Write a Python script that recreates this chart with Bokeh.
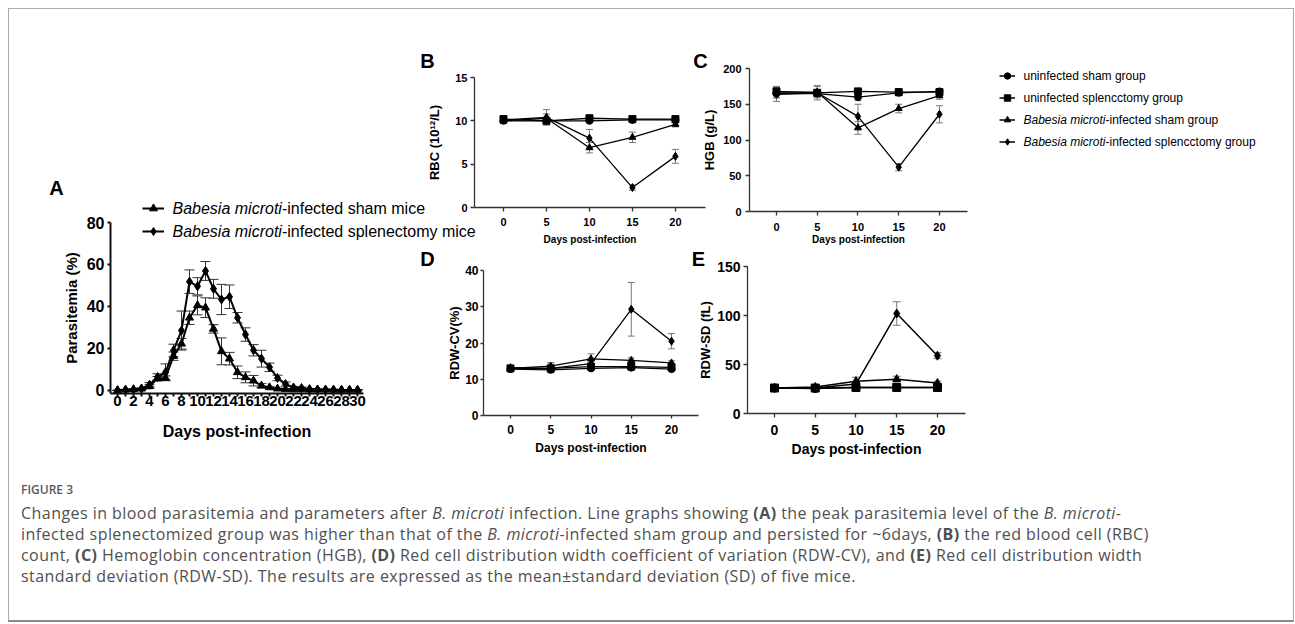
import numpy as np
from bokeh.plotting import figure
from bokeh.models import (Range1d, FixedTicker, ColumnDataSource, Whisker, TeeHead,
                          Legend, LegendItem, Label, Div)
from bokeh.layouts import row, column
from bokeh.embed import file_html
from bokeh.resources import INLINE

FONT = "Liberation Sans"

# ---------------- data: panel A (parasitemia, %) ----------------
days_a = list(range(31))
sham_a = [0, 0.3, 0.5, 0.8, 1.9, 5.6, 5.9, 16.3, 22.2, 34.6, 40.5, 39.4, 29.3, 18.6, 15.1, 8.6,
          6.2, 4.6, 2.2, 1.4, 0.8, 0.5, 0.4, 0.4, 0.3, 0.3, 0.3, 0.2, 0.2, 0.2, 0.2]
sham_a_sd = [0, 0.2, 0.2, 0.3, 0.8, 1.0, 1.0, 2.0, 2.5, 3.2, 4.5, 4.7, 2.0, 6.4, 3.0, 3.0,
             2.6, 2.5, 1.0, 0.5, 0.3, 0.3, 0.2, 0.2, 0.2, 0.2, 0.2, 0.2, 0.1, 0.1, 0.1]
splen_a = [0, 0.2, 0.3, 0.8, 2.7, 6.4, 8.6, 19.0, 28.5, 51.8, 49.6, 56.9, 48.4, 43.3, 44.6, 34.6,
           26.6, 19.1, 15.1, 11.0, 5.9, 3.0, 1.4, 1.1, 0.6, 0.4, 0.3, 0.3, 0.2, 0.2, 0.2]
splen_a_sd = [0, 0.2, 0.2, 0.3, 1.0, 1.5, 4.0, 3.0, 9.3, 5.6, 4.1, 4.5, 4.5, 7.2, 5.6, 2.5,
              3.2, 2.7, 4.0, 2.0, 1.3, 1.0, 0.5, 0.5, 0.3, 0.2, 0.2, 0.2, 0.2, 0.2, 0.2]
legend_a_italic = ["Babesia microti", "Babesia microti"]
legend_a_rest = ["-infected sham mice", "-infected splenectomy mice"]
legend_a_markers = ["triangle", "diamond"]

# ---------------- data: panels B-E (4 groups) ----------------
days = [0, 5, 10, 15, 20]
group_italic = ["", "", "Babesia microti", "Babesia microti"]
group_rest = ["uninfected sham group", "uninfected splencctomy group",
              "-infected sham group", "-infected splencctomy group"]
group_markers = ["circle", "square", "triangle", "diamond"]

rbc_uninf_sham = [10.0, 10.0, 10.0, 10.1, 10.1]
rbc_uninf_splen = [10.2, 10.0, 10.3, 10.2, 10.2]
rbc_inf_sham = [10.0, 10.3, 6.9, 8.1, 9.6]
rbc_inf_splen = [10.1, 10.4, 8.0, 2.3, 5.9]
rbc_sd = [[0.3, 0.2, 0.2, 0.2, 0.2], [0.3, 0.2, 0.3, 0.3, 0.3],
          [0.3, 0.5, 0.6, 0.6, 0.3], [0.3, 0.9, 1.0, 0.3, 0.8]]

hgb_uninf_sham = [165, 165, 160, 166, 168]
hgb_uninf_splen = [168, 166, 168, 167, 167]
hgb_inf_sham = [167, 167, 117, 144, 162]
hgb_inf_splen = [164, 166, 133, 62, 136]
hgb_sd = [[6, 5, 5, 4, 4], [5, 4, 4, 4, 5], [8, 8, 9, 6, 5], [10, 10, 17, 5, 12]]

rdwcv_uninf_sham = [12.8, 12.6, 13.0, 13.2, 12.8]
rdwcv_uninf_splen = [13.0, 13.0, 13.5, 13.5, 13.3]
rdwcv_inf_sham = [13.0, 13.6, 15.6, 15.2, 14.5]
rdwcv_inf_splen = [13.2, 13.0, 14.3, 29.3, 20.5]
rdwcv_sd = [[0.4, 0.4, 0.4, 0.4, 0.4], [0.4, 0.5, 0.5, 0.5, 0.5],
            [0.5, 1.0, 1.4, 0.7, 0.6], [0.5, 1.2, 1.5, 7.4, 2.1]]

rdwsd_uninf_sham = [26, 25.5, 26.5, 26.5, 26.5]
rdwsd_uninf_splen = [26, 26, 26.5, 26.5, 26.5]
rdwsd_inf_sham = [26, 27, 33, 35, 31]
rdwsd_inf_splen = [26, 26, 30, 102, 59]
rdwsd_sd = [[1, 1, 1, 1, 1], [1, 1, 1, 1, 1], [1, 1.5, 4, 3, 2], [1, 1.5, 2, 12, 3]]

ROW_W, ROW_H = 1284, 453


def make_fig(w, h, xr, yr, left, right, top, bottom, **kw):
    p = figure(width=w, height=h, x_range=Range1d(*xr), y_range=Range1d(*yr),
               output_backend="svg", toolbar_location=None, title=None,
               min_border_left=left, min_border_right=right,
               min_border_top=top, min_border_bottom=bottom, frame_align=False, **kw)
    p.grid.visible = False
    p.outline_line_color = None
    p.background_fill_alpha = 0
    p.border_fill_alpha = 0
    return p


def style_axes(p, xticks, yticks, tick_fs, xlab, xlab_fs, ylab, ylab_fs,
               x_std, x_lab_std, y_std, y_lab_std, color="#333333", lw=1.3,
               tick_out=4, x_minor=None, ytick_fs=None):
    for ax in (p.xaxis[0], p.yaxis[0]):
        ax.axis_line_color = color
        ax.axis_line_width = lw
        ax.major_tick_line_color = color
        ax.major_tick_line_width = lw
        ax.major_tick_out = tick_out
        ax.major_tick_in = 0
        ax.minor_tick_line_color = None
        ax.major_label_text_font = FONT
        ax.major_label_text_font_style = "bold"
        ax.major_label_text_font_size = f"{tick_fs}px"
        ax.major_label_text_color = "black"
        ax.axis_label_text_font = FONT
        ax.axis_label_text_font_style = "bold"
        ax.axis_label_text_color = "black"
    if ytick_fs:
        p.yaxis.major_label_text_font_size = f"{ytick_fs}px"
    p.xaxis.ticker = FixedTicker(ticks=xticks, minor_ticks=x_minor or [])
    p.yaxis.ticker = FixedTicker(ticks=yticks)
    if x_minor:
        p.xaxis.minor_tick_line_color = color
        p.xaxis.minor_tick_line_width = lw
        p.xaxis.minor_tick_out = tick_out
        p.xaxis.minor_tick_in = 0
    p.xaxis.axis_label = xlab
    p.xaxis.axis_label_text_font_size = f"{xlab_fs}px"
    p.yaxis.axis_label = ylab
    p.yaxis.axis_label_text_font_size = f"{ylab_fs}px"
    p.xaxis.major_label_standoff = x_std
    p.xaxis.axis_label_standoff = x_lab_std
    p.yaxis.major_label_standoff = y_std
    p.yaxis.axis_label_standoff = y_lab_std


def draw_series(p, x, y, sd, marker, size, lw, err_color, cap):
    src = ColumnDataSource(dict(x=x, y=y,
                                upper=[a + b for a, b in zip(y, sd)],
                                lower=[a - b for a, b in zip(y, sd)]))
    p.add_layout(Whisker(source=src, base="x", upper="upper", lower="lower",
                         line_color=err_color, line_width=1,
                         upper_head=TeeHead(size=cap, line_color=err_color, line_width=1),
                         lower_head=TeeHead(size=cap, line_color=err_color, line_width=1)))
    p.line("x", "y", source=src, line_color="black", line_width=lw)
    p.scatter("x", "y", source=src, marker=marker, size=size,
              fill_color="black", line_color="black")


# ---------------- overlay canvas for panel letters and legends ----------------
ov = figure(width=ROW_W, height=ROW_H, x_range=Range1d(0, ROW_W), y_range=Range1d(ROW_H, 0),
            output_backend="svg", toolbar_location=None, title=None,
            x_axis_location=None, y_axis_location=None, frame_align=False,
            min_border_left=0, min_border_right=0, min_border_top=0, min_border_bottom=0,
            margin=(0, -ROW_W, 0, 0))
ov.grid.visible = False
ov.outline_line_color = None
ov.background_fill_alpha = 0
ov.border_fill_alpha = 0


def ov_text(txt, x, y, fs, style="normal", align="left"):
    ov.add_layout(Label(x=x, y=y, text=txt, text_font=FONT, text_font_style=style,
                        text_font_size=f"{fs}px", text_align=align,
                        text_baseline="middle", text_color="black"))


def ov_legend_entries(italics, rests, x, ys, fs, italic_w):
    for it, rest, ysx in zip(italics, rests, ys):
        xx = x
        if it:
            ov_text(it, x, ysx, fs, "italic")
            xx = x + italic_w
        ov_text(rest, xx, ysx, fs)


def ov_swatches(markers, lw):
    # legend-only renderers: a single undefined (NaN) point, so nothing is drawn in the plot
    items = []
    for mk in markers:
        src = ColumnDataSource(dict(x=np.array([np.nan]), y=np.array([np.nan])))
        rl = ov.line("x", "y", source=src, line_color="black", line_width=lw)
        rs = ov.scatter("x", "y", source=src, marker=mk, size=8,
                        fill_color="black", line_color="black")
        items.append(LegendItem(label=" ", renderers=[rl, rs]))
    return items


# panel letters
for t, x, y in [("A", 47, 178), ("B", 418, 51), ("C", 691, 51), ("D", 418, 249), ("E", 689, 249)]:
    ov_text(t, x, y, 20, "bold", "center")

# legend of panel A
ov.add_layout(Legend(items=ov_swatches(legend_a_markers, 2), location=(133, 221),
                     padding=0, spacing=3, glyph_width=22, glyph_height=20, label_height=20,
                     label_standoff=0, label_text_font_size="6px",
                     border_line_color=None, background_fill_alpha=0))
ov_legend_entries(legend_a_italic, legend_a_rest, 163, [199, 222], 16, 109.4)

# shared legend of panels B-E
ov.add_layout(Legend(items=ov_swatches(group_markers, 1.5), location=(990, 311),
                     padding=0, spacing=3, glyph_width=16, glyph_height=19, label_height=19,
                     label_standoff=0, label_text_font_size="6px",
                     border_line_color=None, background_fill_alpha=0))
ov_legend_entries(group_italic, group_rest, 1014, [66.5, 88.5, 110.5, 132.5], 12, 82.0)

# ---------------- panel A ----------------
pa = make_fig(476, 453, (-0.875, 30.75), (-1.5, 80), 101, 122, 213, 69,
              margin=(0, -67, 0, 0))
style_axes(pa, list(range(0, 31, 2)), [0, 20, 40, 60, 80], 15,
           "Days post-infection", 16, "Parasitemia (%)", 15,
           -1, 14, 3, 4, color="#111111", lw=2, tick_out=3,
           x_minor=list(range(1, 31, 2)), ytick_fs=16)
draw_series(pa, days_a, sham_a, sham_a_sd, "triangle", 8, 2, "#333333", 10)
draw_series(pa, days_a, splen_a, splen_a_sd, "diamond", 9, 2, "#333333", 10)

# ---------------- panel B ----------------
pb = make_fig(290, 238, (-3.37, 23.5), (0, 15), 56, 3, 68, 39)
style_axes(pb, days, [0, 5, 10, 15], 11, "Days post-infection", 10, "RBC (10¹²/L)", 13,
           6, 5, 3, 10)
for vals, sd, mk in zip([rbc_uninf_sham, rbc_uninf_splen, rbc_inf_sham, rbc_inf_splen],
                        rbc_sd, group_markers):
    draw_series(pb, days, vals, sd, mk, 7 if mk != "diamond" else 8, 1.3, "#777777", 7)

# ---------------- panel C ----------------
pc = make_fig(607, 238, (-3.31, 23.44), (0, 200), 63, 326, 59, 34)
style_axes(pc, days, [0, 50, 100, 150, 200], 11, "Days post-infection", 10, "HGB (g/L)", 13,
           7, 0, 4, 3)
for vals, sd, mk in zip([hgb_uninf_sham, hgb_uninf_splen, hgb_inf_sham, hgb_inf_splen],
                        hgb_sd, group_markers):
    draw_series(pc, days, vals, sd, mk, 7 if mk != "diamond" else 8, 1.3, "#777777", 7)

# ---------------- panel D ----------------
pd_ = make_fig(290, 215, (-3.35, 23.35), (0, 40), 65, 10, 23, 47)
style_axes(pd_, days, [0, 10, 20, 30, 40], 12, "Days post-infection", 12, "RDW-CV(%)", 13,
           6, 4, 2, 0, tick_out=3)
for vals, sd, mk in zip([rdwcv_uninf_sham, rdwcv_uninf_splen, rdwcv_inf_sham, rdwcv_inf_splen],
                        rdwcv_sd, group_markers):
    draw_series(pd_, days, vals, sd, mk, 7 if mk != "diamond" else 8, 1.3, "#777777", 7)

# ---------------- panel E ----------------
pe = make_fig(607, 215, (-3.31, 23.44), (0, 150), 61, 328, 19, 49)
style_axes(pe, days, [0, 50, 100, 150], 14, "Days post-infection", 14, "RDW-SD (fL)", 13,
           7, 3, 3, 1)
for vals, sd, mk in zip([rdwsd_uninf_sham, rdwsd_uninf_splen, rdwsd_inf_sham, rdwsd_inf_splen],
                        rdwsd_sd, group_markers):
    draw_series(pe, days, vals, sd, mk, 8 if mk != "diamond" else 9, 1.5, "#777777", 8)

# ---------------- caption ----------------
caption_lines = [
    "Changes in blood parasitemia and parameters after <i>B. microti</i> infection. Line graphs showing <b>(A)</b> the peak parasitemia level of the <i>B. microti</i>-",
    "infected splenectomized group was higher than that of the <i>B. microti</i>-infected sham group and persisted for ~6days, <b>(B)</b> the red blood cell (RBC)",
    "count, <b>(C)</b> Hemoglobin concentration (HGB), <b>(D)</b> Red cell distribution width coefficient of variation (RDW-CV), and <b>(E)</b> Red cell distribution width",
    "standard deviation (RDW-SD). The results are expressed as the mean±standard deviation (SD) of five mice.",
]
caption_html = (
    "<div style=\"font-family:'Open Sans',sans-serif;color:#505050;padding-left:7px;white-space:nowrap;\">"
    "<div style=\"font-size:12px;line-height:16px;margin-top:15px;color:#5a5a5a;font-weight:600;\">FIGURE 3</div>"
    "<div style=\"font-size:16px;line-height:21px;margin-top:5px;letter-spacing:0.45px;\">"
    + "<br>".join(caption_lines) + "</div></div>"
)
cap = Div(text=caption_html, width=ROW_W, height=158)

bd = column(pb, pd_, margin=(0, -22, 0, 0))
ce = column(pc, pe)
top = row(ov, pa, bd, ce, width=ROW_W, height=ROW_H)
page = column(top, cap, margin=(8, 0, 0, 8), width=ROW_W, height=ROW_H + 158,
              styles={"border": "1px solid #aaaaaa", "border-bottom": "2px solid #8a8a8a",
                      "box-sizing": "content-box", "overflow": "visible"})

open("out.html", "w").write(file_html(page, INLINE))
